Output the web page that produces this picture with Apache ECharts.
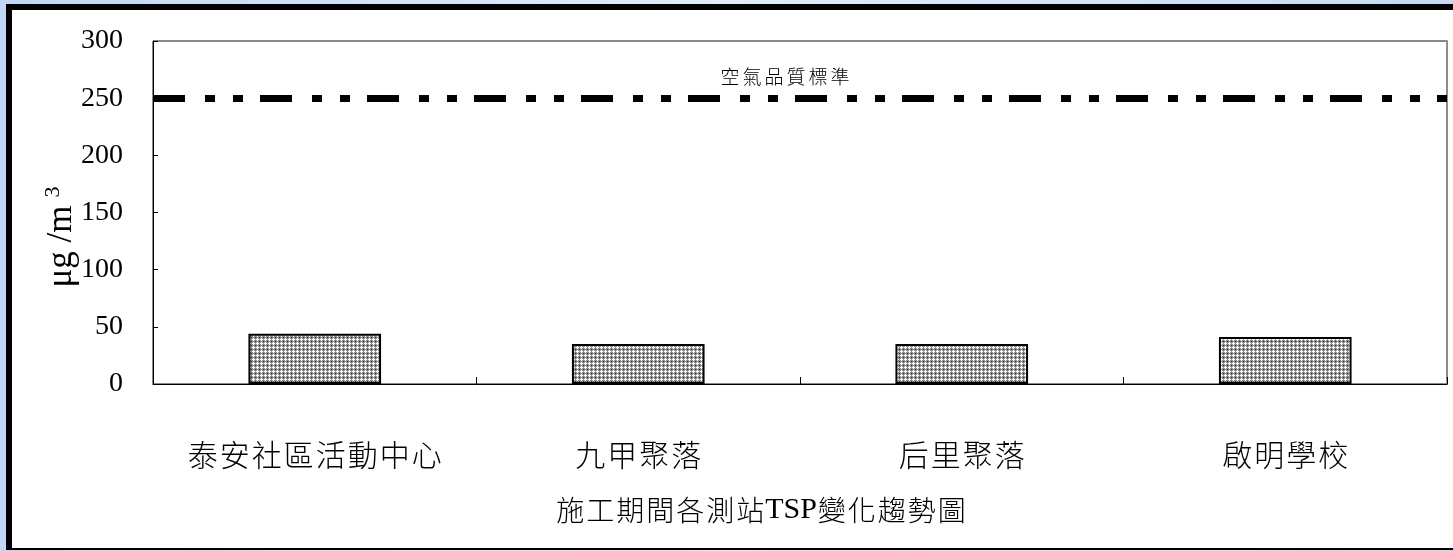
<!DOCTYPE html>
<html>
<head>
<meta charset="utf-8">
<script src="https://cdn.jsdelivr.net/npm/echarts@6/dist/echarts.min.js"></script>
<style>
html { margin: 0; padding: 0; background: #cadcf6; }
body {
  margin: 0; padding: 0; width: 1453px; height: 551px; overflow: hidden; position: relative;
  background: linear-gradient(90deg, #c2d7f5 0%, #e3edfb 50%, #c6daf6 100%);
}
#frame {
  position: absolute; left: 6px; top: 4px; width: 1447px; height: 546px;
  background: #000;
}
#paper {
  position: absolute; left: 6px; top: 6px; width: 1441px; height: 538px;
  background: #fff;
}
#chart { position: absolute; left: 0; top: 0; width: 1441px; height: 538px; }
</style>
</head>
<body>
<div id="frame"><div id="paper"><div id="chart"></div></div></div>
<script>
// Monitoring stations and their TSP readings (μg/m³)
const stations = ['泰安社區活動中心', '九甲聚落', '后里聚落', '啟明學校'];
const tspValues = [44, 35, 35, 41];
// Air quality standard for TSP
const standardValue = 250;
const standardLabel = '空氣品質標準';
// Value axis range and step
const yMin = 0;
const yMax = 300;
const yStep = 50;
const chartTitle = ['施工期間各測站', 'TSP', '變化趨勢圖'];

const serifFont = '"Liberation Serif", "Times New Roman", serif';
const cjkFont = '"Noto Sans CJK TC", "Noto Sans CJK SC", sans-serif';

// Wrap every character in a rich-text fragment so the glyphs get a little tracking
function spaced(str, style) {
  return Array.from(str).map(ch => '{' + style + '|' + ch + '}').join('');
}

// Fine halftone fill for the bars
function makeHalftone() {
  const c = document.createElement('canvas');
  c.width = 4; c.height = 4;
  const g = c.getContext('2d');
  g.fillStyle = '#8e8e8e';
  g.fillRect(0, 0, 4, 4);
  g.fillStyle = '#ffffff';
  [[1, 0], [0, 1], [1, 1], [2, 1], [1, 2]].forEach(p => g.fillRect(p[0], p[1], 1, 1));
  g.fillStyle = '#2a2a2a';
  g.fillRect(3, 3, 1, 1);
  return c;
}

const chart = echarts.init(document.getElementById('chart'), null, { renderer: 'canvas' });

chart.setOption({
  animation: false,
  backgroundColor: '#fff',
  grid: { left: 141, top: 31, width: 1294, height: 343, show: true, borderColor: '#111', borderWidth: 1, backgroundColor: 'transparent' },
  xAxis: {
    type: 'category',
    data: stations,
    axisLine: { lineStyle: { color: '#000', width: 1 } },
    axisTick: { show: true, inside: true, length: 7, lineStyle: { color: '#000' } },
    axisLabel: {
      margin: 56,
      formatter: v => spaced(v, 'c'),
      rich: { c: { fontSize: 30, fontWeight: 300, color: '#000', fontFamily: cjkFont, padding: [0, 1, 0, 1] } }
    }
  },
  yAxis: [{
    type: 'value',
    min: yMin, max: yMax, interval: yStep,
    axisLine: { show: true, lineStyle: { color: '#000', width: 1 } },
    axisTick: { show: true, inside: true, length: 5, lineStyle: { color: '#000' } },
    splitLine: { show: false },
    axisLabel: { margin: 30, fontSize: 28, color: '#000', fontFamily: serifFont }
  }, {
    type: 'value',
    position: 'right',
    min: yMin, max: yMax, interval: yStep,
    axisLine: { show: true, lineStyle: { color: '#8c8c8c', width: 2 } },
    axisTick: { show: false },
    axisLabel: { show: false },
    splitLine: { show: false }
  }],
  series: [{
    type: 'bar',
    data: tspValues,
    barWidth: '41%',
    itemStyle: {
      color: { image: makeHalftone(), repeat: 'repeat' },
      borderColor: '#000',
      borderWidth: 2
    },
    markLine: {
      silent: true,
      symbol: 'none',
      data: [{ yAxis: standardValue }],
      lineStyle: { color: '#000', width: 7, type: [32, 20, 10, 18, 10, 17], cap: 'butt' },
      label: {
        show: true,
        position: 'insideMiddleTop',
        distance: 12,
        formatter: () => spaced(standardLabel, 'k'),
        rich: { k: { fontSize: 19, fontWeight: 300, color: '#000', fontFamily: cjkFont, padding: [0, 1.5, 0, 1.5] } },
        offset: [-15, 0]
      }
    }
  }],
  graphic: [{
    type: 'text',
    x: 50, y: 227,
    rotation: Math.PI / 2,
    style: {
      text: '{a|μg /m}{s|3}',
      align: 'center',
      verticalAlign: 'middle',
      rich: {
        a: { fontSize: 35, fontFamily: serifFont, fill: '#000', lineHeight: 40 },
        s: { fontSize: 22, fontFamily: serifFont, fill: '#000', lineHeight: 40, verticalAlign: 'top', padding: [0, 0, 0, 8] }
      }
    }
  }, {
    type: 'text',
    x: 749, y: 500,
    style: {
      text: spaced(chartTitle[0], 'h') + '{t|' + chartTitle[1] + '}' + spaced(chartTitle[2], 'h'),
      align: 'center',
      verticalAlign: 'middle',
      fill: '#000',
      rich: {
        h: { fontSize: 28, fontWeight: 300, fontFamily: cjkFont, fill: '#000', padding: [0, 1, 0, 1] },
        t: { fontSize: 30, fontFamily: serifFont, fill: '#000' }
      }
    }
  }]
});
</script>
</body>
</html>
